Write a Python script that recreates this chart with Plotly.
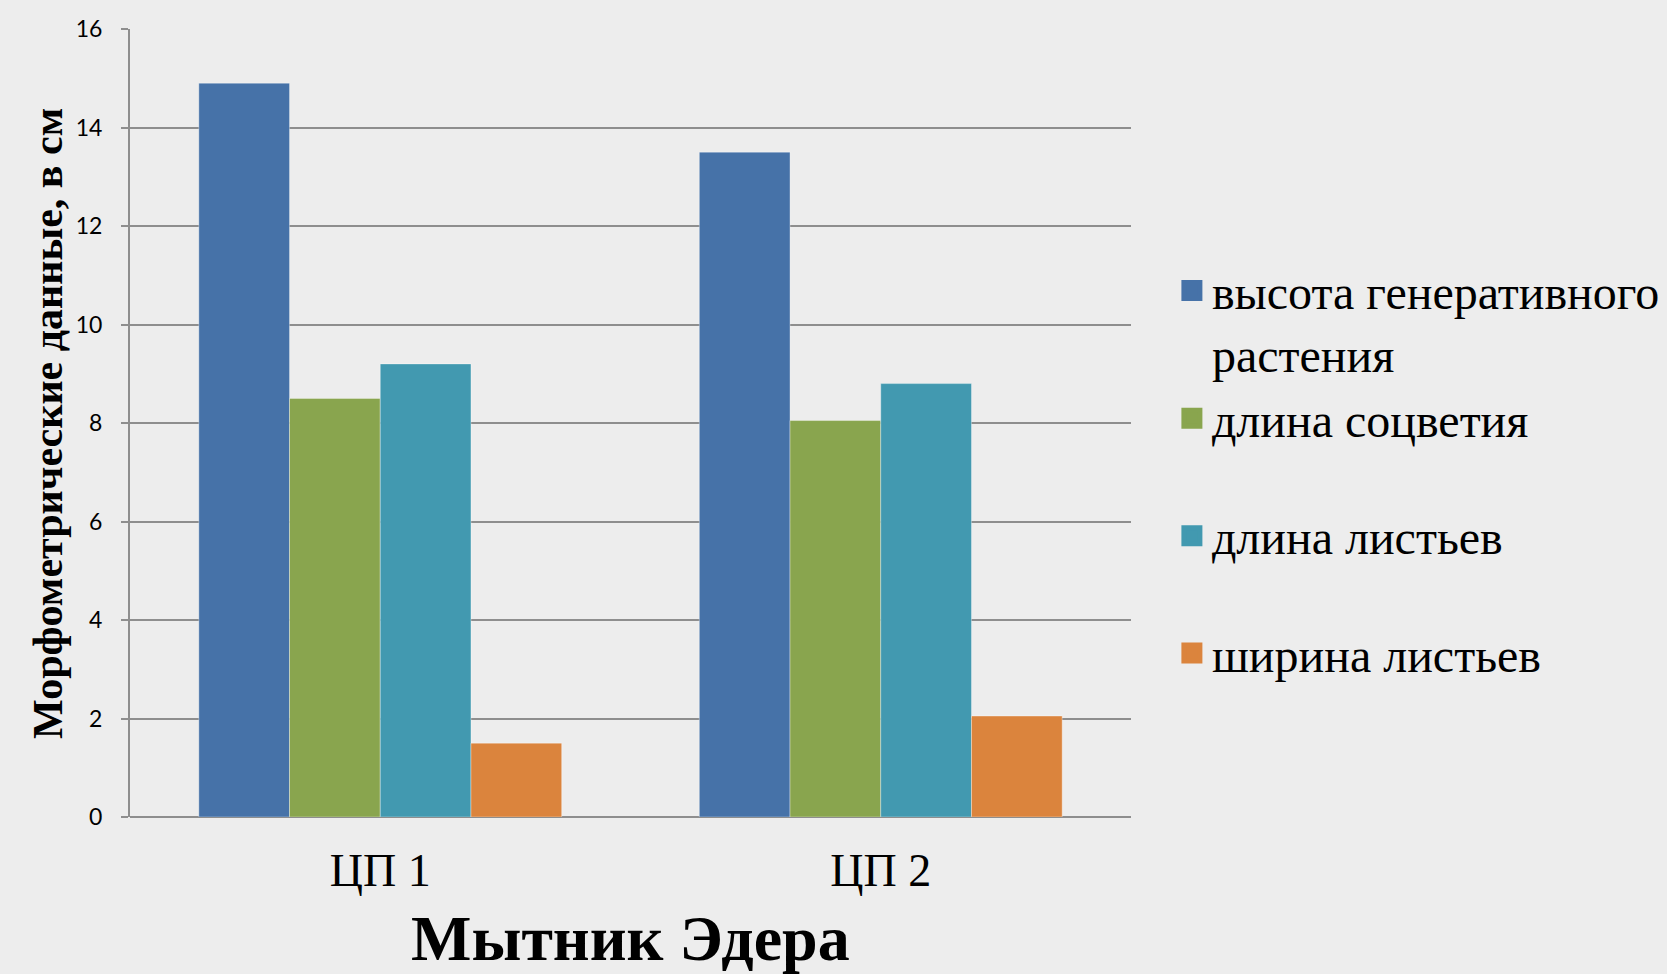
import plotly.graph_objects as go

categories = ["ЦП 1", "ЦП 2"]
series_names = ["высота генеративного<br>растения", "длина соцветия", "длина листьев", "ширина листьев"]
vysota = [14.9, 13.5]
dlina_socvetiya = [8.5, 8.05]
dlina_listev = [9.2, 8.8]
shirina_listev = [1.5, 2.05]
y_ticks = [0, 2, 4, 6, 8, 10, 12, 14, 16]
colors = ["#4672a8", "#89a54e", "#4299b0", "#db843d"]
legend_groups = ["a", "a", "b", "c"]

values = [vysota, dlina_socvetiya, dlina_listev, shirina_listev]

SERIF = "Liberation Serif, Times New Roman, serif"

fig = go.Figure()
for name, vals, col in zip(series_names, values, colors):
    fig.add_trace(go.Bar(
        x=categories, y=vals, name=name, showlegend=False,
        marker=dict(color=col, line=dict(color="rgba(255,255,255,0.35)", width=1)),
    ))
for name, col, grp in zip(series_names, colors, legend_groups):
    fig.add_trace(go.Scatter(
        x=[None], y=[None], mode="markers", name=name, legendgroup=grp,
        marker=dict(symbol="square", size=22, color=col, line=dict(color=col, width=6)),
    ))

grid_col = "#8e8e8e"
fig.update_layout(
    width=1667, height=974,
    paper_bgcolor="#ededed", plot_bgcolor="#ededed",
    margin=dict(l=130, r=536, t=29, b=157, autoexpand=False),
    barmode="group", bargap=0.275, bargroupgap=0,
    showlegend=True,
    legend=dict(
        xref="container", x=0.703, y=0.716, xanchor="left", yanchor="top",
        bgcolor="rgba(0,0,0,0)", traceorder="grouped", tracegroupgap=52,
        valign="top",
        font=dict(family=SERIF, size=48, color="#000"),
    ),
    xaxis=dict(
        type="category", showgrid=False, showline=False, ticks="",
        tickfont=dict(family=SERIF, size=46, color="#000"),
        ticklabelstandoff=22,
    ),
    yaxis=dict(
        range=[0, 16], tickvals=y_ticks, ticktext=[str(v) for v in y_ticks],
        showgrid=True, gridcolor=grid_col, gridwidth=2,
        showline=True, linecolor=grid_col, linewidth=2,
        ticks="outside", ticklen=7, tickwidth=2, tickcolor=grid_col,
        zeroline=True, zerolinecolor=grid_col, zerolinewidth=2,
        tickfont=dict(family="Lato", size=23, color="#000"),
        ticklabelstandoff=14,
    ),
    annotations=[
        dict(text="<b>Морфометрические данные, в см</b>", textangle=-90,
             xref="paper", yref="paper", x=-0.082, y=0.5,
             xanchor="center", yanchor="middle", showarrow=False,
             font=dict(family=SERIF, size=42, color="#000")),
        dict(text="<b>Мытник Эдера</b>",
             xref="paper", yref="paper", x=0.5, y=-0.1536,
             xanchor="center", yanchor="middle", showarrow=False,
             font=dict(family=SERIF, size=64, color="#000")),
    ],
)

fig.write_html("out.html", config={"displayModeBar": False},
               post_script="document.body.style.margin='0';")
